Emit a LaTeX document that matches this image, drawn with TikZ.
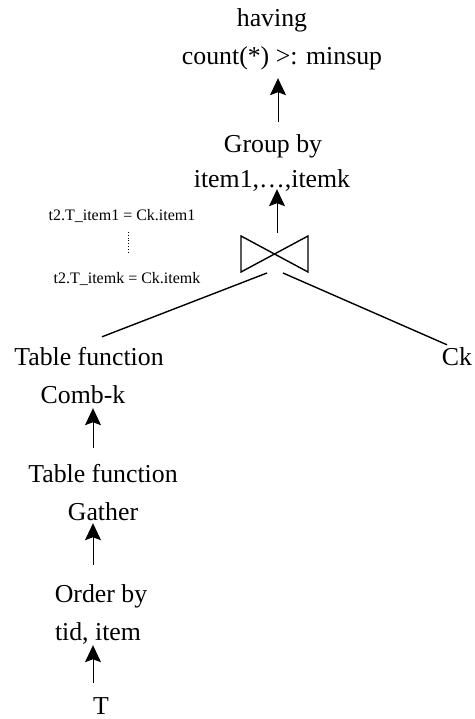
\documentclass[tikz,border=0pt]{standalone}
\usepackage{fontspec}
\setmainfont{Liberation Serif}
\usetikzlibrary{arrows.meta}
\begin{document}
\begin{tikzpicture}[x=1pt,y=-1pt,
  lbl/.style={anchor=base,inner sep=0pt,text height=18pt,text depth=5pt,font=\fontsize{25.8}{30}\selectfont},
  cond/.style={anchor=base,inner sep=0pt,font=\fontsize{16}{19}\selectfont},
  arr/.style={line width=1pt,-{Stealth[length=17pt,width=16pt,inset=3pt]}},
  conn/.style={line width=1.4pt}]
\useasboundingbox (0,0) rectangle (474,719);
% text nodes
\node[lbl] (having) at (272,27) {having};
\node[lbl] (count) at (282,65) {count(*) >: minsup};
\node[lbl] (groupby) at (273,153) {Group by};
\node[lbl] (items) at (272,188) {item1,…,itemk};
\node[cond] (j1) at (122,221) {t2.T\_item1 = Ck.item1};
\node[cond] (j2) at (127,283) {t2.T\_itemk = Ck.itemk};
\node[lbl] (tf1) at (89,365) {Table function};
\node[lbl] (ck) at (457,365) {Ck};
\node[lbl] (comb) at (83,403) {Comb-k};
\node[lbl] (tf2) at (103,482) {Table function};
\node[lbl] (gather) at (103,520) {Gather};
\node[lbl] (order) at (101,602) {Order by};
\node[lbl] (tid) at (98,640) {tid, item};
\node[lbl,text depth=0pt] (T) at (101,714) {T};
% helper coordinates
\coordinate (ax) at (93,0);
\coordinate (tx) at (278,0);
\coordinate (jx) at (277,0);
\coordinate (dtop) at (128,232);
\coordinate (dbot) at (128,252);
% bowtie
\coordinate (btl) at (241,236);
\coordinate (bbl) at (241,272);
\coordinate (btr) at (308,236);
\coordinate (bbr) at (308,272);
\coordinate (btop) at (277,233);
\coordinate (jl) at (267,273);
\coordinate (jr) at (283,273);
\draw[conn,line join=miter] (btl) -- (bbr) -- (btr) -- (bbl) -- cycle;
% dots between join conditions
\draw[line width=0.8pt,dotted] (dtop) -- (dbot);
% arrows
\draw[arr,shorten <=13pt] (T.north -| ax) -- (tid.south -| ax);
\draw[arr,shorten <=19pt,shorten >=-2pt] (order.north -| ax) -- (gather.south -| ax);
\draw[arr,shorten <=16pt] (tf2.north -| ax) -- (comb.south -| ax);
\draw[arr,shorten >=-4pt] (btop) -- (items.south -| jx);
\draw[arr,shorten <=13pt,shorten >=8pt] (groupby.north -| tx) -- (count.south -| tx);
% join inputs
\draw[conn] (jl) -- ([xshift=13pt,yshift=10pt]tf1.north);
\draw[conn] (jr) -- ([xshift=-10pt,yshift=2pt]ck.north);
\end{tikzpicture}
\end{document}
